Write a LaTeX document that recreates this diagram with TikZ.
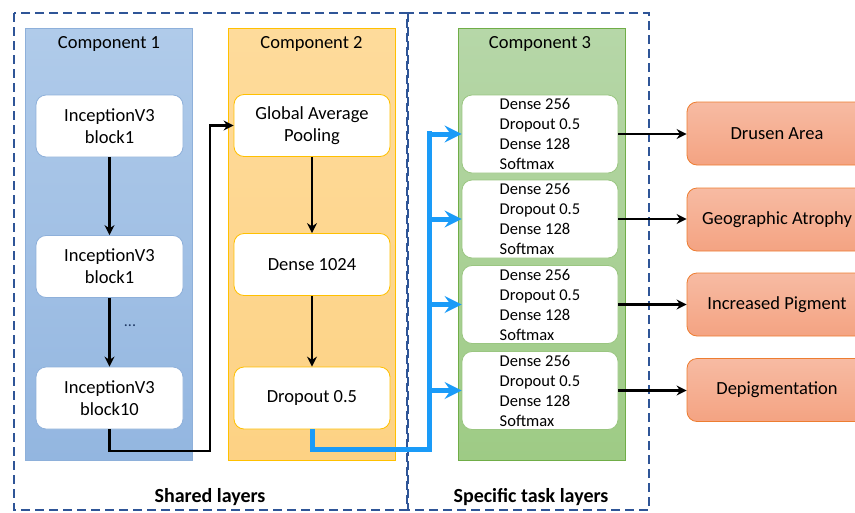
\documentclass[tikz,border=0pt]{standalone}
\usepackage{fontspec}
\setmainfont{Carlito}
\usetikzlibrary{arrows.meta}
\definecolor{dashblue}{HTML}{2F5597}
\definecolor{cAtop}{HTML}{B0CBEA}\definecolor{cAbot}{HTML}{93B6E0}\definecolor{cAedge}{HTML}{8EB0DA}
\definecolor{cBtop}{HTML}{FEDB9B}\definecolor{cBbot}{HTML}{FDD284}\definecolor{cBedge}{HTML}{FFC000}
\definecolor{cCtop}{HTML}{B6D7A8}\definecolor{cCbot}{HTML}{9ECB85}\definecolor{cCedge}{HTML}{70AD47}
\definecolor{oTop}{HTML}{F7BBA3}\definecolor{oBot}{HTML}{F4A382}\definecolor{oEdge}{HTML}{ED7D31}
\definecolor{flowblue}{HTML}{1A9BF8}
\definecolor{dotnavy}{HTML}{1F3864}
\tikzset{
  grp/.style={draw, line width=0.8pt, inner sep=0pt, minimum width=167pt, minimum height=432pt},
  grpA/.style={grp, draw=cAedge, top color=cAtop, bottom color=cAbot},
  grpB/.style={grp, draw=cBedge, top color=cBtop, bottom color=cBbot},
  grpC/.style={grp, draw=cCedge, top color=cCtop, bottom color=cCbot},
  ttl/.style={font=\fontsize{18.5}{22}\selectfont, inner sep=0pt},
  blk/.style={draw, fill=white, rounded corners=10pt, line width=0.8pt, inner sep=0pt,
    align=center, font=\fontsize{18.5}{22}\selectfont},
  blkA/.style={blk, draw=cAedge, minimum width=147pt, minimum height=62pt},
  blkB/.style={blk, draw=cBedge, minimum width=156pt, minimum height=62pt},
  blkC/.style={blk, draw=cCtop!60!cCedge, minimum width=156pt, minimum height=78pt,
    align=left, font=\fontsize{16.5}{20}\selectfont},
  outb/.style={draw=oEdge, line width=0.8pt, rounded corners=10pt, top color=oTop, bottom color=oBot,
    inner sep=0pt, minimum width=180pt, minimum height=63pt, font=\fontsize{18.5}{22}\selectfont},
  conn/.style={line width=2.6pt, -{Stealth[length=10pt,width=10pt]}},
  bconn/.style={line width=5pt, flowblue},
  barrow/.style={line width=5pt, flowblue, -{Stealth[length=17pt,width=17pt,inset=6pt]}},
  region/.style={draw=dashblue, line width=1.6pt, dash pattern=on 9pt off 5pt},
  lbl/.style={font=\bfseries\fontsize{20}{24}\selectfont, inner sep=0pt}
}
\begin{document}
\begin{tikzpicture}[x=1pt,y=-1pt]
\useasboundingbox (0,0) rectangle (855,512);
\clip (0,0) rectangle (855,512);
% groups
\node[grpA] (gA) at (109,244) {};
\node[grpB] (gB) at (311.5,244) {};
\node[grpC] (gC) at (541.5,244) {};
\node[ttl] (tA) at (109,44) {Component 1};
\node[ttl] (tB) at (311.5,44) {Component 2};
\node[ttl] (tC) at (540,44) {Component 3};
% dashed regions
\draw[region] (14,13) rectangle (407,510);
\draw[region] (408,13) rectangle (649,510);
\node[lbl] (shared) at (210,497) {Shared layers};
\node[lbl] (spec) at (531,497) {Specific task layers};
% component 1
\node[blkA] (a1) at (109.5,126) {InceptionV3\\block1};
\node[blkA] (a2) at (109.5,266.5) {InceptionV3\\block1};
\node[blkA] (a3) at (109.5,398) {InceptionV3\\block10};
\node[inner sep=0pt, text=dotnavy, font=\fontsize{16}{18}\selectfont] (dots) at (130,326) {...};
% component 2
\node[blkB] (b1) at (312,125.5) {Global Average\\Pooling};
\node[blkB] (b2) at (312,264.5) {Dense 1024};
\node[blkB] (b3) at (312,398) {Dropout 0.5};
% component 3
\node[blkC] (c1) at (540,134) {Dense 256\\Dropout 0.5\\Dense 128\\Softmax};
\node[blkC] (c2) at (540,219) {Dense 256\\Dropout 0.5\\Dense 128\\Softmax};
\node[blkC] (c3) at (540,304.5) {Dense 256\\Dropout 0.5\\Dense 128\\Softmax};
\node[blkC] (c4) at (540,390.5) {Dense 256\\Dropout 0.5\\Dense 128\\Softmax};
% outputs
\node[outb] (o1) at (777,133.5) {Drusen Area};
\node[outb] (o2) at (777,219.5) {Geographic Atrophy};
\node[outb] (o3) at (777,304.5) {Increased Pigment};
\node[outb] (o4) at (777,390) {Depigmentation};
% connectors
\draw[conn] (a1) -- (a2);
\draw[conn] (a2) -- (a3);
\draw[conn] (b1) -- (b2);
\draw[conn] (b2) -- (b3);
\coordinate (k1) at (210,451);
\draw[conn] (a3.south) |- (k1) |- (b1.west);
\coordinate (j1) at (429,449);
\coordinate (jtop) at (429,131);
\draw[bconn] (b3.south) |- (j1) -- (jtop);
\foreach \n in {c1,c2,c3,c4}{\draw[barrow] (j1 |- \n.west) -- (\n.west);}
\draw[conn] (c1.east) -- (c1.east -| o1.west);
\draw[conn] (c2.east) -- (c2.east -| o2.west);
\draw[conn] (c3.east) -- (c3.east -| o3.west);
\draw[conn] (c4.east) -- (c4.east -| o4.west);
\end{tikzpicture}
\end{document}
